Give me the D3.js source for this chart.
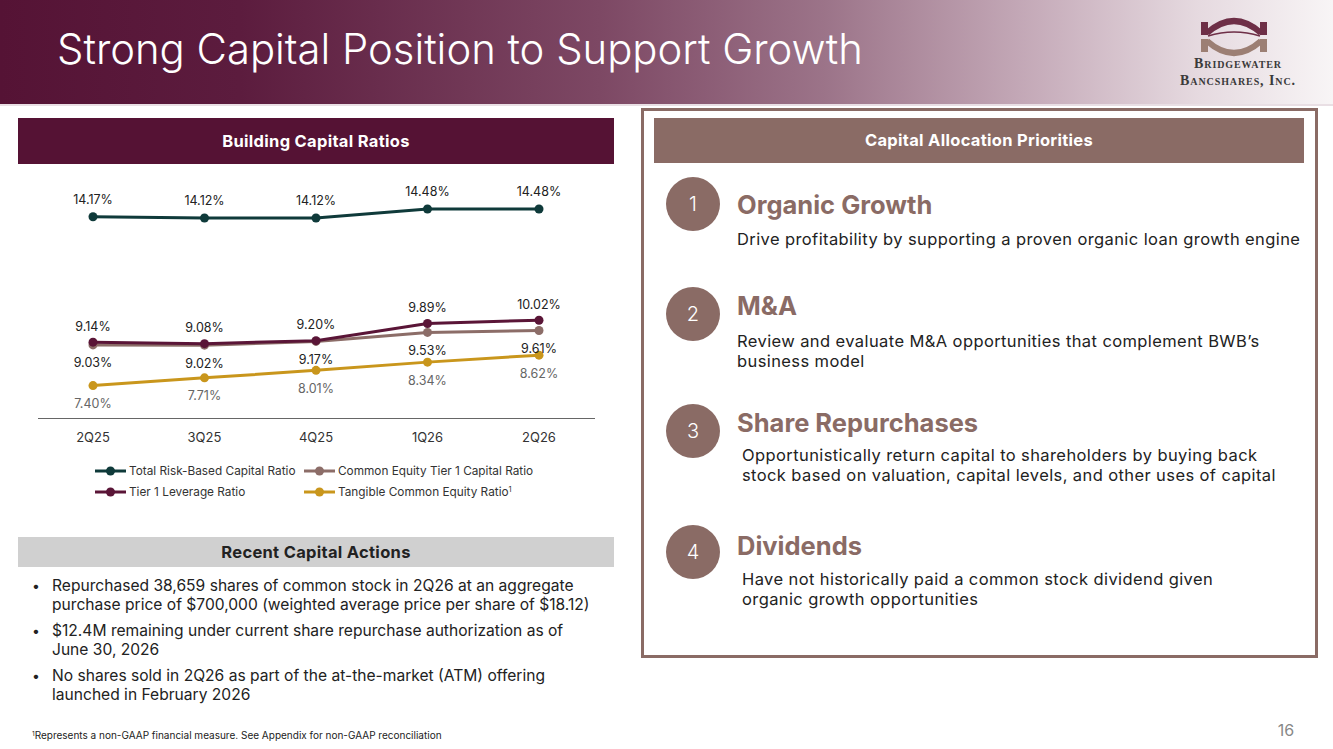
<!DOCTYPE html>
<html>
<head>
<meta charset="utf-8">
<script src="https://cdn.jsdelivr.net/npm/d3@7"></script>
<style>
  html, body { margin: 0; padding: 0; background: #fff; }
  svg { display: block; font-family: Inter, "Noto Sans", sans-serif; }
</style>
</head>
<body>
<div id="slide"></div>
<script>
// chart data
var quarters = ['2Q25', '3Q25', '4Q25', '1Q26', '2Q26']
var totalRiskBased = [14.17, 14.12, 14.12, 14.48, 14.48]
var tier1Leverage = [9.14, 9.08, 9.20, 9.89, 10.02]
var cet1 = [9.03, 9.02, 9.17, 9.53, 9.61]
var tce = [7.40, 7.71, 8.01, 8.34, 8.62]

var seriesNames = ['Total Risk-Based Capital Ratio', 'Common Equity Tier 1 Capital Ratio',
                   'Tier 1 Leverage Ratio', 'Tangible Common Equity Ratio']

var bullets = [
    ['Repurchased 38,659 shares of common stock in 2Q26 at an aggregate',
     'purchase price of $700,000 (weighted average price per share of $18.12)'],
    ['$12.4M remaining under current share repurchase authorization as of',
     'June 30, 2026'],
    ['No shares sold in 2Q26 as part of the at-the-market (ATM) offering',
     'launched in February 2026']
]

var priorities = [
    {n: '1', title: 'Organic Growth', lines: ['Drive profitability by supporting a proven organic loan growth engine']},
    {n: '2', title: 'M&A', lines: ['Review and evaluate M&A opportunities that complement BWB\u2019s', 'business model']},
    {n: '3', title: 'Share Repurchases', lines: ['Opportunistically return capital to shareholders by buying back', 'stock based on valuation, capital levels, and other uses of capital']},
    {n: '4', title: 'Dividends', lines: ['Have not historically paid a common stock dividend given', 'organic growth opportunities']}
]

var colors = {
    maroon: '#551234',
    mauve: '#8a6b65',
    teal: '#0f3a3a',
    tier1: '#5a1537',
    cet1: '#8c6d68',
    tce: '#c9961c',
    text: '#222',
    grey: '#666'
}

var width = 1333, height = 749

var svg = d3.select('#slide').append('svg')
    .attr('width', width)
    .attr('height', height)

var defs = svg.append('defs')
var grad = defs.append('linearGradient').attr('id', 'hdr')
    .attr('x1', 0).attr('x2', 1).attr('y1', 0).attr('y2', 0)
grad.selectAll('stop')
    .data([[0, '#551335'], [0.18, '#5c1c3e'], [0.45, '#7d4864'], [0.62, '#9c7489'],
           [0.78, '#c7adbb'], [0.9, '#e6dae0'], [1, '#f8f5f6']])
    .enter().append('stop')
    .attr('offset', d => d[0])
    .attr('stop-color', d => d[1])

// header band
svg.append('rect')
    .attr('x', 0).attr('y', 0).attr('width', width).attr('height', 104)
    .attr('fill', 'url(#hdr)')
svg.append('rect')
    .attr('x', 0).attr('y', 104).attr('width', width).attr('height', 2)
    .attr('fill', '#e9dfe4')

svg.append('text')
    .attr('x', 57).attr('y', 64)
    .attr('fill', '#fff')
    .attr('font-size', 41.8)
    .attr('font-weight', 300)
    .text('Strong Capital Position to Support Growth')

// logo
var logo = svg.append('g').attr('transform', 'translate(1234,37)')
logo.append('path')
    .attr('d', 'M-27,-4 Q0,-28 27,-4')
    .attr('fill', 'none').attr('stroke', '#6e2f47').attr('stroke-width', 6)
logo.append('path')
    .attr('d', 'M-27,4 Q0,28 27,4')
    .attr('fill', 'none').attr('stroke', '#9c7f74').attr('stroke-width', 6)
logo.append('path')
    .attr('d', 'M-26,-1 Q0,-9 26,-1')
    .attr('fill', 'none').attr('stroke', '#6e2f47').attr('stroke-width', 1.5)
logo.selectAll('rect.post')
    .data([-33, 26])
    .enter().append('rect')
    .attr('x', d => d).attr('y', -15).attr('width', 7).attr('height', 13)
    .attr('fill', '#6e2f47')
logo.selectAll('rect.post2')
    .data([-33, 26])
    .enter().append('rect')
    .attr('x', d => d).attr('y', 2).attr('width', 7).attr('height', 13)
    .attr('fill', '#9c7f74')
svg.append('text')
    .attr('x', 1238).attr('y', 68)
    .attr('text-anchor', 'middle')
    .attr('font-family', '"Liberation Serif", "DejaVu Serif", serif')
    .attr('font-size', 14)
    .attr('font-weight', 700)
    .attr('letter-spacing', 0.9)
    .attr('font-variant', 'small-caps')
    .attr('fill', '#3a3a3a')
    .text('Bridgewater')
svg.append('text')
    .attr('x', 1238).attr('y', 85)
    .attr('text-anchor', 'middle')
    .attr('font-family', '"Liberation Serif", "DejaVu Serif", serif')
    .attr('font-size', 14)
    .attr('font-weight', 700)
    .attr('letter-spacing', 0.9)
    .attr('font-variant', 'small-caps')
    .attr('fill', '#3a3a3a')
    .text('Bancshares, Inc.')

// section headers
function sectionBar(x, y, w, h, fill, label, color) {
    svg.append('rect')
        .attr('x', x).attr('y', y).attr('width', w).attr('height', h)
        .attr('fill', fill)
    svg.append('text')
        .attr('x', x + w / 2).attr('y', y + h / 2)
        .attr('dy', '0.35em')
        .attr('text-anchor', 'middle')
        .attr('font-size', 16.5)
        .attr('letter-spacing', 0.3)
        .attr('font-weight', 700)
        .attr('fill', color)
        .text(label)
}

sectionBar(18, 118, 596, 46, colors.maroon, 'Building Capital Ratios', '#fff')
sectionBar(18, 537, 596, 30, '#d0d0d0', 'Recent Capital Actions', '#222')

// right panel border
svg.append('rect')
    .attr('x', 642.5).attr('y', 109.5).attr('width', 674).attr('height', 547)
    .attr('fill', 'none').attr('stroke', colors.mauve).attr('stroke-width', 3)
sectionBar(654, 118, 650, 45, colors.mauve, 'Capital Allocation Priorities', '#fff')

// line chart
var x = d3.scalePoint()
    .domain(quarters)
    .range([93, 539])

var y = d3.scaleLinear()
    .domain([6.1, 15])
    .range([418, 196])

var series = [
    {name: seriesNames[0], values: totalRiskBased, color: colors.teal, labelDy: -17, labelColor: '#222'},
    {name: seriesNames[2], values: tier1Leverage, color: colors.tier1, labelDy: -16, labelColor: '#222'},
    {name: seriesNames[1], values: cet1, color: colors.cet1, labelDy: 18, labelColor: '#222'},
    {name: seriesNames[3], values: tce, color: colors.tce, labelDy: 18, labelColor: colors.grey}
]

var chart = svg.append('g')

chart.append('line')
    .attr('x1', 38).attr('x2', 595)
    .attr('y1', 418.5).attr('y2', 418.5)
    .attr('stroke', '#666').attr('stroke-width', 1.2)

chart.selectAll('text.tick')
    .data(quarters)
    .enter().append('text')
    .attr('class', 'tick')
    .attr('x', d => x(d))
    .attr('y', 437)
    .attr('dy', '0.35em')
    .attr('text-anchor', 'middle')
    .attr('font-size', 13)
    .attr('fill', '#333')
    .text(d => d)

var line = d3.line()
    .x((d, i) => x(quarters[i]))
    .y(d => y(d))

// draw order: tce, cet1, tier1 (so tier1 sits over cet1), total
var drawOrder = [series[3], series[2], series[1], series[0]]

drawOrder.forEach(function(s) {
    chart.append('path')
        .datum(s.values)
        .attr('d', line)
        .attr('fill', 'none')
        .attr('stroke', s.color)
        .attr('stroke-width', 3)
    chart.selectAll(null)
        .data(s.values)
        .enter().append('circle')
        .attr('cx', (d, i) => x(quarters[i]))
        .attr('cy', d => y(d))
        .attr('r', 4.5)
        .attr('fill', s.color)
})

series.forEach(function(s) {
    chart.selectAll(null)
        .data(s.values)
        .enter().append('text')
        .attr('x', (d, i) => x(quarters[i]))
        .attr('y', d => y(d) + s.labelDy)
        .attr('dy', '0.35em')
        .attr('text-anchor', 'middle')
        .attr('font-size', 12.5)
        .attr('fill', s.labelColor)
        .text(d => d.toFixed(2) + '%')
})

// legend
var legendItems = [
    {s: series[0], x: 95, y: 471},
    {s: series[2], x: 304, y: 471},
    {s: series[1], x: 95, y: 492},
    {s: series[3], x: 304, y: 492}
]
var lg = chart.selectAll('g.legend')
    .data(legendItems)
    .enter().append('g')
    .attr('transform', d => 'translate(' + d.x + ',' + d.y + ')')
lg.append('line')
    .attr('x1', 0).attr('x2', 31)
    .attr('stroke', d => d.s.color).attr('stroke-width', 3)
lg.append('circle')
    .attr('cx', 15.5).attr('r', 4.5)
    .attr('fill', d => d.s.color)
var lt = lg.append('text')
    .attr('x', 34).attr('dy', '0.35em')
    .attr('font-size', 11.8)
    .attr('fill', '#333')
    .text(d => d.s.name)
lt.filter(d => d.s.name === seriesNames[3])
    .append('tspan')
    .attr('font-size', 7.5)
    .attr('dy', '-0.5em')
    .text('1')

// recent capital actions
var bl = svg.append('g')
bullets.forEach(function(b, i) {
    var y0 = 586 + i * 45
    bl.append('text')
        .attr('x', 32).attr('y', y0)
        .attr('dy', '0.35em')
        .attr('font-size', 14)
        .attr('fill', '#222')
        .text('\u2022')
    b.forEach(function(t, j) {
        bl.append('text')
            .attr('x', 52).attr('y', y0 + j * 19)
            .attr('dy', '0.35em')
            .attr('font-size', 15.6)
            .attr('fill', '#222')
            .text(t)
    })
})

// priorities
var circleY = [204, 314, 431, 552]
var titleY = [205, 306, 423, 546]
var descY = [239, 341, 455, 579]
var descX = [737, 737, 742, 742]

priorities.forEach(function(p, i) {
    var g = svg.append('g')
    g.append('circle')
        .attr('cx', 693).attr('cy', circleY[i]).attr('r', 27)
        .attr('fill', colors.mauve)
    g.append('text')
        .attr('x', 693).attr('y', circleY[i])
        .attr('dy', '0.36em')
        .attr('text-anchor', 'middle')
        .attr('font-size', 20)
        .attr('font-weight', 300)
        .attr('fill', '#fff')
        .text(p.n)
    g.append('text')
        .attr('x', 737).attr('y', titleY[i])
        .attr('dy', '0.35em')
        .attr('font-size', 25.5)
        .attr('font-weight', 700)
        .attr('fill', colors.mauve)
        .text(p.title)
    p.lines.forEach(function(t, j) {
        g.append('text')
            .attr('x', descX[i]).attr('y', descY[i] + j * 20)
            .attr('dy', '0.35em')
            .attr('font-size', 16.5)
            .attr('letter-spacing', 0.4)
            .attr('fill', '#222')
            .text(t)
    })
})

// footnote and page number
var fn = svg.append('text')
    .attr('x', 32).attr('y', 738)
    .attr('dy', '0.35em')
    .attr('font-size', 10)
    .attr('fill', '#222')
fn.append('tspan').attr('font-size', 6.5).attr('dy', '-0.3em').text('1')
fn.append('tspan').attr('dy', '0.3em').text('Represents a non-GAAP financial measure. See Appendix for non-GAAP reconciliation')

svg.append('text')
    .attr('x', 1286).attr('y', 730)
    .attr('dy', '0.35em')
    .attr('text-anchor', 'middle')
    .attr('font-size', 16)
    .attr('fill', '#888')
    .text('16')
</script>
</body>
</html>
